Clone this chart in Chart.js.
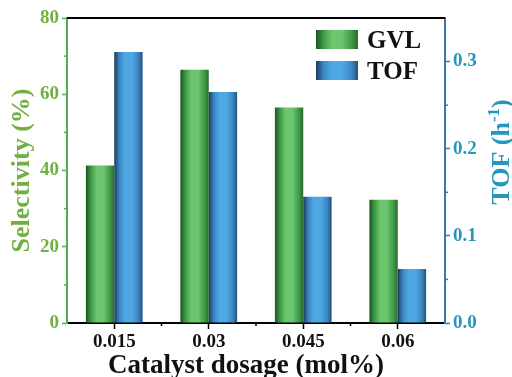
<!DOCTYPE html>
<html>
<head>
<meta charset="utf-8">
<script src="https://cdn.jsdelivr.net/npm/chart.js@4.4.1/dist/chart.umd.min.js"></script>
<style>
  html, body { margin: 0; padding: 0; background: #ffffff; }
  #wrap { width: 512px; height: 377px; position: relative; }
</style>
</head>
<body>
<div id="wrap"><canvas id="c"></canvas></div>
<script>
// Catalyst dosage (mol%) on the x axis
const categories = ['0.015', '0.03', '0.045', '0.06'];
// GVL selectivity (%), left axis
const gvlSelectivity = [41.3, 66.4, 56.5, 32.3];
// Turnover frequency (h^-1), right axis
const tofValues = [0.311, 0.265, 0.145, 0.062];
// Axis tick values
const leftTicks = [0, 20, 40, 60, 80];
const rightTicks = [0.0, 0.1, 0.2, 0.3];

const SERIF = '"Liberation Serif", "Times New Roman", "DejaVu Serif", serif';
const GREEN_TXT = '#6fb040';
const GREEN_AXIS = '#4fae55';
const BLUE_TXT = '#2596bd';
const BLUE_AXIS = '#3b78b0';
const CAT_PCT = 0.6;
const BAR_PCT = 1.0;

const palettes = [
  { dark: '#1a5420', mid: '#3f9a45', light: '#6cc56f', edge: '#2a6a2e' },
  { dark: '#1c3a5c', mid: '#3a86c2', light: '#4fa8e2', edge: '#24507a' }
];

function fillStops(g, p) {
  g.addColorStop(0.0, p.dark);
  g.addColorStop(0.18, p.mid);
  g.addColorStop(0.38, p.light);
  g.addColorStop(0.62, p.light);
  g.addColorStop(0.85, p.mid);
  g.addColorStop(1.0, p.edge);
  return g;
}

// Cylinder-like horizontal gradient per bar, positioned from the category scale
function barFill(ctx) {
  const p = palettes[ctx.datasetIndex] || palettes[0];
  const chart = ctx.chart;
  const xs = chart.scales && chart.scales.x;
  if (ctx.type !== 'data' || !chart.chartArea || !xs) return p.light;
  const n = categories.length;
  const cat = (xs.right - xs.left) / n;
  const w = cat * CAT_PCT * BAR_PCT / 2;
  const c = xs.getPixelForValue(ctx.dataIndex);
  const left = ctx.datasetIndex === 0 ? c - w : c;
  return fillStops(chart.ctx.createLinearGradient(left, 0, left + w, 0), p);
}

const decorations = {
  id: 'decorations',
  afterDraw(chart) {
    const { ctx, chartArea: a, scales } = chart;
    ctx.save();
    // frame top line
    ctx.strokeStyle = '#000';
    ctx.lineWidth = 2;
    ctx.beginPath();
    ctx.moveTo(a.left, a.top);
    ctx.lineTo(a.right, a.top);
    ctx.stroke();

    // minor ticks on the left axis
    ctx.lineWidth = 1.5;
    ctx.strokeStyle = GREEN_AXIS;
    [10, 30, 50, 70].forEach(v => {
      const y = scales.y.getPixelForValue(v);
      ctx.beginPath(); ctx.moveTo(a.left - 3, y); ctx.lineTo(a.left, y); ctx.stroke();
    });
    // minor ticks on the right axis
    ctx.strokeStyle = BLUE_AXIS;
    [0.05, 0.15, 0.25].forEach(v => {
      const y = scales.y1.getPixelForValue(v);
      ctx.beginPath(); ctx.moveTo(a.right, y); ctx.lineTo(a.right + 3, y); ctx.stroke();
    });
    // minor ticks between categories on the x axis
    ctx.strokeStyle = '#000';
    for (let i = 0; i < categories.length - 1; i++) {
      const x = (scales.x.getPixelForValue(i) + scales.x.getPixelForValue(i + 1)) / 2;
      ctx.beginPath(); ctx.moveTo(x, a.bottom); ctx.lineTo(x, a.bottom + 3); ctx.stroke();
    }

    // x axis title
    ctx.fillStyle = '#111';
    ctx.font = 'bold 27px ' + SERIF;
    ctx.textAlign = 'center';
    ctx.textBaseline = 'alphabetic';
    ctx.fillText('Catalyst dosage (mol%)', 246, 373);

    // right axis title with superscript, reading bottom to top
    ctx.fillStyle = BLUE_TXT;
    ctx.translate(509, 152);
    ctx.rotate(-Math.PI / 2);
    const big = 'bold 26px ' + SERIF, small = 'bold 17px ' + SERIF;
    ctx.font = big;
    const w1 = ctx.measureText('TOF (h').width;
    const w3 = ctx.measureText(')').width;
    ctx.font = small;
    const w2 = ctx.measureText('-1').width;
    let x = -(w1 + w2 + w3) / 2;
    ctx.textAlign = 'left';
    ctx.font = big;
    ctx.fillText('TOF (h', x, 0);
    x += w1;
    ctx.font = small;
    ctx.fillText('-1', x, -10);
    x += w2;
    ctx.font = big;
    ctx.fillText(')', x, 0);
    ctx.restore();

    // legend
    ctx.save();
    const labels = ['GVL', 'TOF'];
    const bx = a.right - 129, bw = 42, bh = 19;
    labels.forEach((t, i) => {
      const by = a.top + 12 + i * 31;
      ctx.fillStyle = fillStops(ctx.createLinearGradient(bx, 0, bx + bw, 0), palettes[i]);
      ctx.fillRect(bx, by, bw, bh);
      ctx.fillStyle = '#111';
      ctx.font = 'bold 25px ' + SERIF;
      ctx.textAlign = 'left';
      ctx.textBaseline = 'alphabetic';
      ctx.fillText(t, bx + 51, by + 18);
    });
    ctx.restore();
  }
};

new Chart(document.getElementById('c'), {
  type: 'bar',
  data: {
    labels: categories,
    datasets: [
      { label: 'GVL', data: gvlSelectivity, yAxisID: 'y', backgroundColor: barFill,
        borderWidth: 0, categoryPercentage: CAT_PCT, barPercentage: BAR_PCT },
      { label: 'TOF', data: tofValues, yAxisID: 'y1', backgroundColor: barFill,
        borderWidth: 0, categoryPercentage: CAT_PCT, barPercentage: BAR_PCT }
    ]
  },
  options: {
    responsive: true,
    maintainAspectRatio: false,
    animation: false,
    layout: { padding: { top: 18, left: 0, right: 0, bottom: 0 } },
    plugins: { legend: { display: false }, tooltip: { enabled: false } },
    scales: {
      x: {
        z: 1,
        offset: true,
        afterFit(s) { s.height = 54; },
        grid: { display: true, drawOnChartArea: false, offset: false, tickLength: 6, tickWidth: 1.5, tickColor: '#000' },
        border: { display: true, color: '#000', width: 2 },
        ticks: { color: '#111', padding: 2, font: { family: SERIF, size: 19, weight: 'bold' } }
      },
      y: {
        z: 1,
        position: 'left',
        min: 0, max: 80,
        afterFit(s) { s.width = 67; },
        afterBuildTicks(s) { s.ticks = leftTicks.map(v => ({ value: v })); },
        grid: { display: true, drawOnChartArea: false, tickLength: 5, tickWidth: 1.5, tickColor: GREEN_AXIS },
        border: { display: true, color: GREEN_AXIS, width: 2 },
        ticks: { color: GREEN_TXT, padding: 3, font: { family: SERIF, size: 19, weight: 'bold' } },
        title: { display: true, text: 'Selectivity (%)', color: GREEN_TXT, padding: { top: 7, bottom: 0 },
          font: { family: SERIF, size: 26, weight: 'bold' } }
      },
      y1: {
        z: 1,
        position: 'right',
        min: 0, max: 0.35,
        afterFit(s) { s.width = 67; },
        afterBuildTicks(s) { s.ticks = rightTicks.map(v => ({ value: v })); },
        grid: { display: true, drawOnChartArea: false, tickLength: 5, tickWidth: 1.5, tickColor: BLUE_AXIS },
        border: { display: true, color: BLUE_AXIS, width: 2 },
        ticks: { color: BLUE_TXT, padding: 3, callback: v => Number(v).toFixed(1),
          font: { family: SERIF, size: 19, weight: 'bold' } }
      }
    }
  },
  plugins: [decorations]
});
</script>
</body>
</html>
